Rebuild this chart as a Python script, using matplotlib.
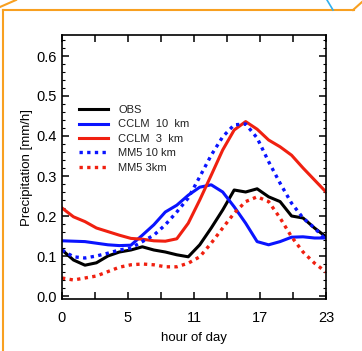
import matplotlib
matplotlib.use("Agg")
import matplotlib.pyplot as plt
from matplotlib.lines import Line2D
from matplotlib.ticker import MultipleLocator, FormatStrFormatter
import numpy as np

hours = list(range(24))

obs = [0.115, 0.09, 0.077, 0.083, 0.10, 0.11, 0.115, 0.123, 0.115, 0.11, 0.103, 0.098,
       0.128, 0.17, 0.215, 0.265, 0.26, 0.268, 0.248, 0.236, 0.20, 0.195, 0.17, 0.148]
cclm10 = [0.138, 0.137, 0.136, 0.132, 0.128, 0.126, 0.127, 0.152, 0.178, 0.21, 0.227, 0.252,
          0.272, 0.278, 0.26, 0.223, 0.182, 0.136, 0.128, 0.136, 0.147, 0.148, 0.145, 0.145]
cclm3 = [0.22, 0.198, 0.186, 0.17, 0.161, 0.152, 0.144, 0.142, 0.138, 0.137, 0.143, 0.182,
         0.24, 0.302, 0.365, 0.415, 0.436, 0.417, 0.39, 0.373, 0.352, 0.32, 0.29, 0.26]
mm5_10 = [0.115, 0.098, 0.095, 0.10, 0.107, 0.115, 0.12, 0.136, 0.152, 0.178, 0.21, 0.245,
          0.298, 0.352, 0.398, 0.428, 0.43, 0.395, 0.336, 0.282, 0.232, 0.195, 0.17, 0.14]
mm5_3 = [0.045, 0.04, 0.045, 0.05, 0.061, 0.072, 0.078, 0.08, 0.078, 0.073, 0.073, 0.082,
         0.098, 0.132, 0.17, 0.207, 0.236, 0.248, 0.236, 0.195, 0.148, 0.11, 0.082, 0.06]

labels = ["OBS", "CCLM  10  km", "CCLM  3  km", "MM5 10 km", "MM5 3km"]
xtick_labels = ["0", "", "5", "", "11", "", "17", "", "23"]

plt.rcParams["font.family"] = ["Liberation Sans", "DejaVu Sans"]

fig = plt.figure(figsize=(3.62, 3.51), dpi=100)
ax = fig.add_axes([62 / 362, 1 - 299 / 351, 264 / 362, 264 / 351])

blue = "#0a14ff"
red = "#f02010"
ax.plot(hours, obs, color="black", lw=2.2, label=labels[0])
ax.plot(hours, cclm10, color=blue, lw=2.2, label=labels[1])
ax.plot(hours, cclm3, color=red, lw=2.2, label=labels[2])
ax.plot(hours, mm5_10, color=blue, lw=2.4, ls=(0, (1, 1.3)), label=labels[3])
ax.plot(hours, mm5_3, color=red, lw=2.4, ls=(0, (1, 1.3)), label=labels[4])

ax.set_xlim(0, 23)
ax.set_ylim(-0.0075, 0.6525)
ax.set_xticks(np.linspace(0, 23, 9))
ax.set_xticklabels(xtick_labels)
ax.set_yticks([0.0, 0.1, 0.2, 0.3, 0.4, 0.5, 0.6])
ax.yaxis.set_minor_locator(MultipleLocator(0.02))
ax.yaxis.set_major_formatter(FormatStrFormatter("%.1f"))
ax.tick_params(axis="both", which="major", direction="in", length=5, width=1.1,
               top=True, right=True, labelsize=10.5)
ax.tick_params(axis="x", which="major", pad=9)
ax.tick_params(axis="y", which="major", pad=4)
ax.tick_params(axis="y", which="minor", direction="in", length=2.5, width=0.8, right=True)
for s in ax.spines.values():
    s.set_linewidth(1.2)

ax.set_xlabel("hour of day", fontsize=9.5, labelpad=5)
ax.set_ylabel("Precipitation [mm/h]", fontsize=9.5, labelpad=2)

leg = ax.legend(loc="upper left", bbox_to_anchor=(0.065, 0.735), frameon=False,
                fontsize=8, handlelength=2.6, labelspacing=0.4, handletextpad=0.9,
                borderaxespad=0, borderpad=0)
for t in leg.get_texts():
    t.set_color("#222222")

# screenshot frame decorations
orange = "#f8a020"
fig.add_artist(Line2D([3 / 362, 3 / 362], [0, 1 - 10 / 351], color=orange, lw=1.5,
                      transform=fig.transFigure))
fig.add_artist(Line2D([3 / 362, 354 / 362], [1 - 10 / 351, 1 - 10 / 351], color=orange, lw=1.5,
                      transform=fig.transFigure))
fig.add_artist(Line2D([0, 16 / 362], [1 - 7 / 351, 1.0], color=orange, lw=1.5,
                      transform=fig.transFigure))
fig.add_artist(Line2D([353 / 362, 1.0], [1 - 10 / 351, 1 - 2 / 351], color=orange, lw=1.5,
                      transform=fig.transFigure))
fig.add_artist(Line2D([327 / 362, 333 / 362], [1.0, 1 - 10 / 351], color="#30b0f0", lw=1.2,
                      transform=fig.transFigure))

fig.savefig("out.png", dpi=100, facecolor="white")
